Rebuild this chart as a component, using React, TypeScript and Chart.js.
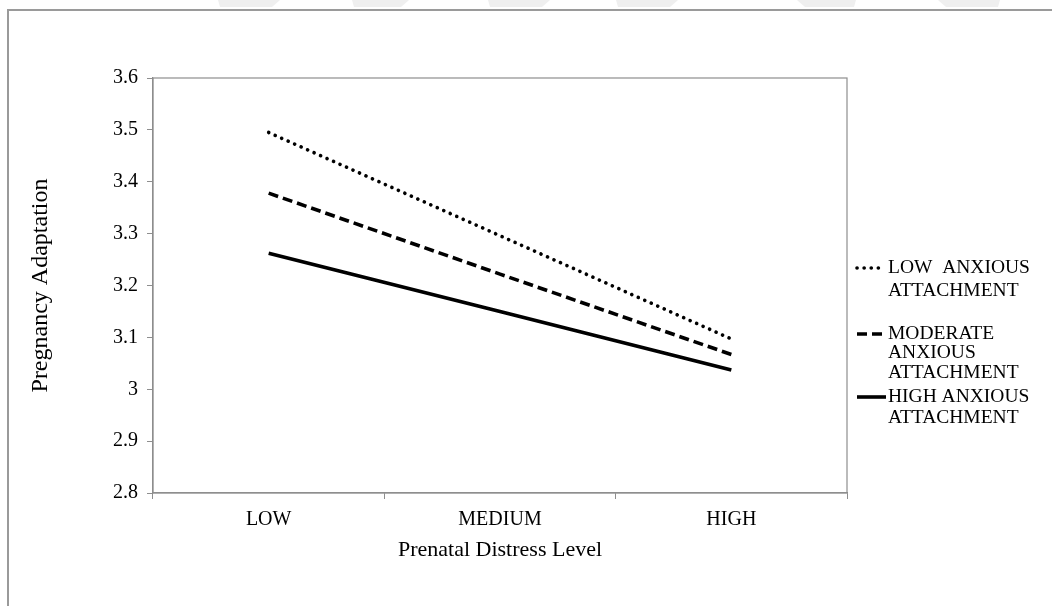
import React, { useEffect, useRef } from "react";
import { Chart, registerables } from "chart.js";

Chart.register(...registerables);

const categories = ["LOW", "MEDIUM", "HIGH"];
const lowAnxious = [3.495, 3.296, 3.097];
const moderateAnxious = [3.378, 3.222, 3.067];
const highAnxious = [3.262, 3.15, 3.037];
const legendLow = ["LOW  ANXIOUS", "ATTACHMENT"];
const legendModerate = ["MODERATE", "ANXIOUS", "ATTACHMENT"];
const legendHigh = ["HIGH ANXIOUS", "ATTACHMENT"];
const yMin = 2.8;
const yMax = 3.6;
const yStep = 0.1;
const xTitle = "Prenatal Distress Level";
const yTitle = "Pregnancy Adaptation";

const SERIF = "'Liberation Serif', 'Times New Roman', serif";
const AXIS_GRAY = "#8e8e8e";

const framePlugin = {
  id: "frame",
  beforeDraw(chart: any) {
    const ctx = chart.ctx;
    ctx.save();
    ctx.fillStyle = "#ffffff";
    ctx.fillRect(0, 0, chart.width, chart.height);
    // faint watermark strips at the top
    ctx.fillStyle = "#efefef";
    const strips = [
      [218, 278, 1],
      [352, 407, 1],
      [488, 548, 1],
      [616, 676, 1],
      [799, 856, -1],
      [940, 1000, -1],
    ];
    strips.forEach(([a, b, dir]) => {
      ctx.beginPath();
      if (dir > 0) {
        ctx.moveTo(a, 0);
        ctx.lineTo(b + 2, 0);
        ctx.lineTo(b - 6, 7);
        ctx.lineTo(a + 2, 7);
      } else {
        ctx.moveTo(a - 2, 0);
        ctx.lineTo(b, 0);
        ctx.lineTo(b - 2, 7);
        ctx.lineTo(a + 6, 7);
      }
      ctx.closePath();
      ctx.fill();
    });
    // outer frame
    ctx.strokeStyle = "#9a9a9a";
    ctx.lineWidth = 2;
    ctx.beginPath();
    ctx.moveTo(8, chart.height + 2);
    ctx.lineTo(8, 10);
    ctx.lineTo(chart.width + 2, 10);
    ctx.stroke();
    ctx.restore();
  },
  beforeDatasetsDraw(chart: any) {
    const { ctx, chartArea } = chart;
    ctx.save();
    ctx.strokeStyle = AXIS_GRAY;
    ctx.lineWidth = 1.2;
    ctx.strokeRect(chartArea.left, chartArea.top, chartArea.right - chartArea.left, chartArea.bottom - chartArea.top);
    ctx.restore();
  },
  afterDraw(chart: any) {
    const ctx = chart.ctx;
    const rows = [
      [268, 291],
      [334, 353, 373],
      [397, 418],
    ];
    const sampleEnds = [884.2, 886, 886];
    ctx.save();
    ctx.font = `19.5px ${SERIF}`;
    ctx.fillStyle = "#000";
    ctx.textBaseline = "middle";
    ctx.textAlign = "left";
    chart.data.datasets.forEach((ds: any, i: number) => {
      const ys = rows[i];
      ctx.save();
      ctx.strokeStyle = ds.borderColor;
      ctx.lineWidth = ds.borderWidth;
      ctx.lineCap = ds.borderCapStyle || "butt";
      ctx.setLineDash(ds.borderDash || []);
      ctx.beginPath();
      ctx.moveTo(857, ys[0]);
      ctx.lineTo(sampleEnds[i], ys[0]);
      ctx.stroke();
      ctx.restore();
      const lines: string[] = ds.legendLines;
      lines.forEach((t, j) => {
        ctx.fillText(t, 888, ys[j]);
      });
    });
    ctx.restore();
  },
};

export default function App() {
  const ref = useRef<HTMLCanvasElement | null>(null);

  useEffect(() => {
    if (!ref.current) return;
    const chart = new Chart(ref.current, {
      type: "line",
      data: {
        labels: categories,
        datasets: [
          {
            label: legendLow.join(" "),
            legendLines: legendLow,
            data: lowAnxious,
            borderColor: "#000",
            borderWidth: 3.6,
            borderDash: [0.1, 7],
            borderCapStyle: "round",
            pointRadius: 0,
            fill: false,
          } as any,
          {
            label: legendModerate.join(" "),
            legendLines: legendModerate,
            data: moderateAnxious,
            borderColor: "#000",
            borderWidth: 3.6,
            borderDash: [10, 5],
            borderCapStyle: "butt",
            pointRadius: 0,
            fill: false,
          } as any,
          {
            label: legendHigh.join(" "),
            legendLines: legendHigh,
            data: highAnxious,
            borderColor: "#000",
            borderWidth: 3.6,
            borderCapStyle: "butt",
            pointRadius: 0,
            fill: false,
          } as any,
        ],
      },
      options: {
        animation: false,
        responsive: true,
        maintainAspectRatio: false,
        layout: { padding: { left: 0, top: 78, right: 205, bottom: 0 } },
        plugins: {
          legend: { display: false },
          tooltip: { enabled: false },
        },
        scales: {
          x: {
            type: "category",
            offset: true,
            afterFit(scale: any) {
              scale.height = 113;
            },
            grid: {
              display: true,
              offset: true,
              drawOnChartArea: false,
              drawTicks: true,
              tickLength: 6,
              color: AXIS_GRAY,
            },
            border: { display: true, color: AXIS_GRAY, width: 1.2 },
            ticks: {
              color: "#000",
              padding: 9,
              font: { family: SERIF, size: 20 },
              maxRotation: 0,
            },
            title: {
              display: true,
              text: xTitle,
              color: "#000",
              font: { family: SERIF, size: 22 },
              padding: { top: 0, bottom: 43 },
            },
          },
          y: {
            min: yMin,
            max: yMax,
            afterFit(scale: any) {
              scale.width = 153;
            },
            grid: {
              display: true,
              drawOnChartArea: false,
              drawTicks: true,
              tickLength: 6,
              color: AXIS_GRAY,
            },
            border: { display: true, color: AXIS_GRAY, width: 1.2 },
            ticks: {
              stepSize: yStep,
              color: "#000",
              padding: 9,
              font: { family: SERIF, size: 20 },
              callback: (v: any) => String(Number(Number(v).toFixed(1))),
            },
            title: {
              display: true,
              text: yTitle,
              color: "#000",
              font: { family: SERIF, size: 24 },
              padding: { top: 26, bottom: 0 },
            },
          },
        },
      },
      plugins: [framePlugin],
    });
    return () => chart.destroy();
  }, []);

  return (
    <div style={{ position: "absolute", left: 0, top: 0, width: 1052, height: 606, background: "#fff" }}>
      <canvas ref={ref} />
    </div>
  );
}
